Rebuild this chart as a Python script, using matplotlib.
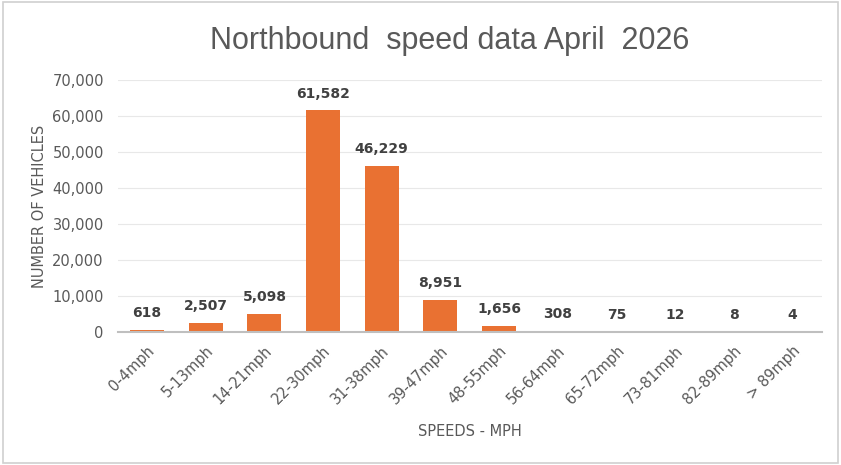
import matplotlib.pyplot as plt
from matplotlib.ticker import FuncFormatter, MultipleLocator
from matplotlib.patches import Rectangle

speed_bins = ["0-4mph", "5-13mph", "14-21mph", "22-30mph", "31-38mph", "39-47mph",
              "48-55mph", "56-64mph", "65-72mph", "73-81mph", "82-89mph", "> 89mph"]
vehicle_counts = [618, 2507, 5098, 61582, 46229, 8951, 1656, 308, 75, 12, 8, 4]

BAR_COLOR = "#E97132"
TEXT_GRAY = "#595959"

plt.rcParams["font.family"] = ["DejaVu Sans"]

fig = plt.figure(figsize=(8.41, 4.65), dpi=100)
fig.patches.append(Rectangle((0.004, 0.004), 0.992, 0.992, transform=fig.transFigure,
                             fill=False, edgecolor="#d0d0d0", linewidth=1.2))

ax = fig.add_axes([0.140, 0.286, 0.837, 0.542])
x = range(len(speed_bins))
ax.bar(x, vehicle_counts, width=0.58, color=BAR_COLOR, zorder=2)

for i, v in enumerate(vehicle_counts):
    ax.annotate(f"{v:,}", (i, v), xytext=(0, 7), textcoords="offset points",
                ha="center", va="bottom", fontsize=10, fontweight="bold",
                color="#404040")

ax.set_ylim(0, 70000)
ax.set_xlim(-0.5, len(speed_bins) - 0.5)
ax.yaxis.set_major_locator(MultipleLocator(10000))
ax.yaxis.set_major_formatter(FuncFormatter(lambda v, p: f"{int(v):,}"))
ax.grid(axis="y", color="#e8e8e8", linewidth=0.8, zorder=0)
ax.set_axisbelow(True)

for s in ["top", "right", "left"]:
    ax.spines[s].set_visible(False)
ax.spines["bottom"].set_color("#bfbfbf")
ax.spines["bottom"].set_linewidth(1.5)

ax.set_xticks(list(x))
ax.set_xticklabels(speed_bins, rotation=45, ha="right", rotation_mode="anchor")
ax.tick_params(axis="x", length=0, pad=8, labelsize=10.5, labelcolor=TEXT_GRAY)
ax.tick_params(axis="y", length=0, pad=10, labelsize=10.5, labelcolor=TEXT_GRAY)

ax.set_ylabel("NUMBER OF VEHICLES", fontsize=10.5, color=TEXT_GRAY, labelpad=4)
ax.set_xlabel("SPEEDS - MPH", fontsize=10.5, color=TEXT_GRAY, labelpad=12)

fig.suptitle("Northbound  speed data April  2026", fontsize=22, color=TEXT_GRAY,
             family=["Liberation Sans", "DejaVu Sans"], x=0.535, y=0.945)

fig.savefig("out.png", dpi=100)
